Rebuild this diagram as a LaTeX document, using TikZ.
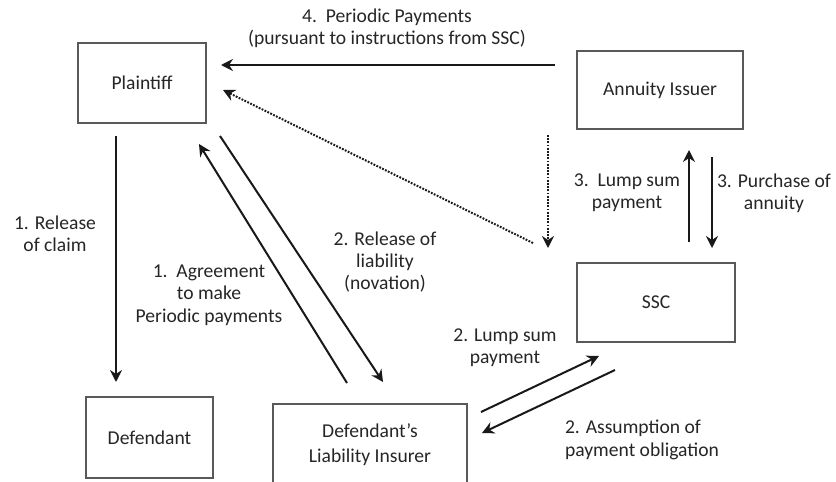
\documentclass[tikz,border=0pt]{standalone}
\usepackage{fontspec}
\setmainfont{Carlito}
\usetikzlibrary{arrows.meta}
\begin{document}
\begin{tikzpicture}[x=0.5pt,y=-0.5pt,
  box/.style={draw=black!65,line width=1.4pt,rectangle,inner sep=0pt,text=black!85,font=\fontsize{9.8}{12.5}\selectfont,align=center},
  lbl/.style={text=black!85,font=\fontsize{9.8}{11.2}\selectfont,align=center,inner sep=0pt},
  arr/.style={draw=black!90,line width=1pt,-{Stealth[length=6pt,width=6pt,inset=2pt]}},
  dot/.style={arr,dash pattern=on 0.9pt off 0.7pt}]
\useasboundingbox (0,0) rectangle (836,482);
\clip (0,0) rectangle (836,482);
\fill[white] (0,0) rectangle (836,482);
% boxes
\node[box,minimum width=64pt,minimum height=40pt] (pl) at (142,83) {Plaintiff};
\node[box,minimum width=83pt,minimum height=39pt] (ai) at (660,90) {Annuity Issuer};
\node[box,minimum width=63.5pt,minimum height=40.5pt] (df) at (149.5,437.5) {Defendant};
\node[box,minimum width=97pt,minimum height=41pt] (ins) at (370,445) {Defendant’s\\Liability Insurer};
\node[box,minimum width=79pt,minimum height=39.5pt] (ssc) at (656,302.5) {SSC};
% connector ends
\coordinate (a4s) at (555,65);   \coordinate (a4e) at (221,65);
\coordinate (dvs) at (548,135);  \coordinate (dve) at (548,248);
\coordinate (dds) at (533,243);  \coordinate (dde) at (223,90);
\coordinate (r1s) at (116,136);  \coordinate (r1e) at (116,382);
\coordinate (ags) at (347,383);  \coordinate (age) at (199,144);
\coordinate (rls) at (220,136);  \coordinate (rle) at (383,382);
\coordinate (l2s) at (481,412);  \coordinate (l2e) at (599,356);
\coordinate (as) at (615,370);   \coordinate (ae) at (482,433);
\coordinate (l3s) at (689,242);  \coordinate (l3e) at (689,150);
\coordinate (p3s) at (712,157);  \coordinate (p3e) at (712,248);
% connectors
\draw[arr] (a4s) -- (a4e);
\draw[dot] (dvs) -- (dve);
\draw[dot] (dds) -- (dde);
\draw[arr] (r1s) -- (r1e);
\draw[arr] (ags) -- (age);
\draw[arr] (rls) -- (rle);
\draw[arr] (l2s) -- (l2e);
\draw[arr] (as) -- (ae);
\draw[arr] (l3s) -- (l3e);
\draw[arr] (p3s) -- (p3e);
% labels
\node[lbl] (t4) at (387,28) {4.\ \ Periodic Payments\\(pursuant to instructions from SSC)};
\node[lbl] (t1r) at (55,234) {1. Release\\of claim};
\node[lbl] (t1a) at (209,295) {1.\ \ Agreement\\to make\\Periodic payments};
\node[lbl] (t2r) at (385,262) {2. Release of\\liability\\(novation)};
\node[lbl] (t3l) at (627,193) {3.\ \ Lump sum\\payment};
\node[lbl] (t3p) at (774,193) {3. Purchase of\\annuity};
\node[lbl] (t2l) at (505,348) {2. Lump sum\\payment};
\node[lbl,align=left] (t2a) at (642,440) {2. Assumption of\\payment obligation};
\end{tikzpicture}
\end{document}
